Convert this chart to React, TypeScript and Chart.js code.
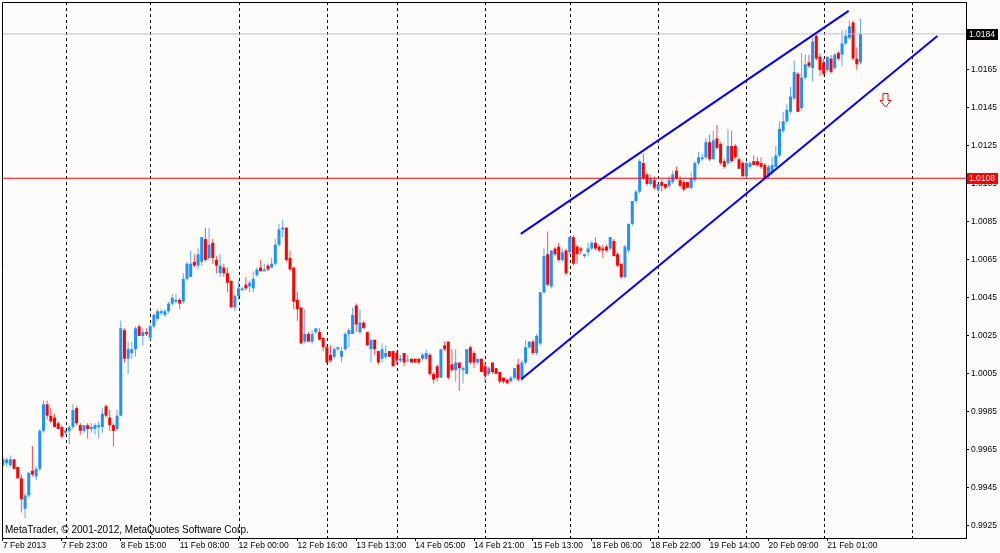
import React, { useEffect, useRef } from "react";
import { Chart, registerables } from "chart.js";

Chart.register(...registerables);

// Prices are stored in 1/10000 units (9960 = 0.9960, 10184 = 1.0184), one H1 candle per entry.
const PIP = 10000;

const openP = [
  9957, 9958, 9957, 9960, 9956, 9950, 9934, 9941, 9954, 9951,
  9955, 9975, 9989, 9983, 9982, 9979, 9977, 9974, 9975, 9977,
  9987, 9978, 9975, 9978, 9976, 9976, 9977, 9977, 9988, 9982,
  9978, 9976, 9983, 10028, 10013, 10016, 10018, 10030, 10025, 10027,
  10024, 10030, 10034, 10037, 10036, 10038, 10042, 10043, 10044, 10043,
  10055, 10056, 10064, 10062, 10064, 10076, 10066, 10074, 10065, 10058,
  10061, 10058, 10054, 10040, 10046, 10049, 10052, 10051, 10050, 10057,
  10061, 10059, 10062, 10061, 10063, 10073, 10081, 10082, 10066, 10061,
  10044, 10040, 10022, 10026, 10022, 10027, 10027, 10024, 10019, 10015,
  10014, 10018, 10014, 10018, 10026, 10026, 10041, 10027, 10032, 10027,
  10018, 10023, 10017, 10013, 10014, 10017, 10017, 10016, 10012, 10016,
  10012, 10013, 10013, 10013, 10013, 10013, 10015, 10005, 10009, 10003,
  10020, 10022, 10010, 10007, 10011, 10007, 10005, 10019, 10016, 10011,
  10013, 10009, 10005, 10011, 10008, 10006, 10003, 10002, 10001, 10003,
  10010, 10002, 10011, 10019, 10022, 10016, 10021, 10048, 10068, 10051,
  10071, 10072, 10065, 10070, 10069, 10077, 10072, 10071, 10067, 10069,
  10071, 10074, 10072, 10071, 10072, 10071, 10075, 10068, 10063, 10056,
  10070, 10084, 10096, 10101, 10116, 10110, 10105, 10107, 10102, 10106,
  10105, 10104, 10106, 10112, 10107, 10106, 10106, 10103, 10107, 10116,
  10118, 10119, 10127, 10118, 10129, 10126, 10117, 10116, 10125, 10125,
  10118, 10116, 10109, 10114, 10117, 10117, 10116, 10115, 10109, 10111,
  10114, 10120, 10133, 10138, 10143, 10150, 10163, 10145, 10161, 10169,
  10166, 10183, 10172, 10169, 10165, 10171, 10166, 10174, 10173, 10179,
  10182, 10190, 10171, 10169,
];

const highP = [
  9961, 9961, 9962, 9960, 9956, 9952, 9942, 9953, 9967, 9956,
  9976, 9991, 9991, 9987, 9984, 9980, 9978, 9976, 9978, 9989,
  9988, 9979, 9978, 9979, 9979, 9979, 9980, 9987, 9989, 9986,
  9979, 9986, 10033, 10029, 10022, 10022, 10030, 10031, 10029, 10029,
  10031, 10037, 10039, 10039, 10039, 10043, 10047, 10047, 10045, 10058,
  10064, 10070, 10068, 10071, 10077, 10082, 10082, 10076, 10067, 10068,
  10063, 10061, 10054, 10047, 10054, 10051, 10056, 10054, 10059, 10061,
  10065, 10063, 10063, 10066, 10076, 10084, 10086, 10082, 10070, 10061,
  10048, 10040, 10039, 10027, 10028, 10029, 10029, 10024, 10020, 10020,
  10019, 10019, 10019, 10027, 10029, 10040, 10042, 10039, 10033, 10027,
  10023, 10023, 10017, 10021, 10020, 10017, 10017, 10017, 10015, 10016,
  10015, 10013, 10013, 10013, 10016, 10018, 10016, 10006, 10010, 10018,
  10022, 10022, 10018, 10018, 10011, 10009, 10018, 10020, 10017, 10013,
  10013, 10011, 10009, 10011, 10008, 10006, 10003, 10002, 10004, 10008,
  10013, 10012, 10023, 10022, 10023, 10026, 10048, 10071, 10080, 10070,
  10072, 10074, 10071, 10071, 10077, 10078, 10073, 10072, 10068, 10074,
  10075, 10077, 10073, 10073, 10073, 10077, 10076, 10069, 10063, 10073,
  10084, 10096, 10102, 10118, 10121, 10111, 10110, 10109, 10105, 10107,
  10105, 10109, 10112, 10114, 10109, 10107, 10106, 10111, 10117, 10122,
  10121, 10129, 10131, 10133, 10136, 10127, 10118, 10134, 10133, 10126,
  10119, 10117, 10117, 10117, 10120, 10119, 10119, 10116, 10115, 10119,
  10125, 10138, 10143, 10147, 10156, 10170, 10164, 10174, 10173, 10173,
  10182, 10185, 10174, 10171, 10172, 10173, 10174, 10175, 10186, 10186,
  10191, 10191, 10177, 10192,
];

const lowP = [
  9956, 9956, 9956, 9955, 9950, 9932, 9929, 9940, 9951, 9949,
  9954, 9974, 9981, 9979, 9977, 9976, 9971, 9973, 9968, 9976,
  9978, 9973, 9974, 9971, 9974, 9973, 9971, 9974, 9982, 9975,
  9967, 9975, 9983, 10011, 10005, 10013, 10014, 10025, 10020, 10025,
  10023, 10029, 10033, 10036, 10035, 10037, 10041, 10042, 10039, 10042,
  10054, 10056, 10061, 10060, 10062, 10064, 10065, 10063, 10058, 10056,
  10056, 10048, 10040, 10038, 10044, 10049, 10049, 10048, 10048, 10056,
  10059, 10059, 10059, 10061, 10062, 10072, 10077, 10064, 10059, 10039,
  10033, 10021, 10021, 10022, 10021, 10026, 10023, 10017, 10011, 10011,
  10013, 10017, 10011, 10017, 10019, 10026, 10027, 10026, 10029, 10020,
  10011, 10015, 10010, 10011, 10013, 10014, 10009, 10010, 10011, 10009,
  10011, 10011, 10011, 10010, 10012, 10012, 10004, 10000, 10001, 10003,
  10017, 10002, 10006, 10001, 9996, 10000, 10005, 10010, 10008, 10010,
  10006, 10001, 10004, 10005, 10005, 10000, 10000, 10000, 10001, 10002,
  10001, 10001, 10010, 10018, 10015, 10015, 10020, 10047, 10051, 10050,
  10067, 10064, 10064, 10057, 10068, 10062, 10063, 10068, 10066, 10067,
  10070, 10070, 10069, 10066, 10069, 10070, 10067, 10061, 10055, 10055,
  10069, 10083, 10095, 10100, 10107, 10104, 10104, 10102, 10101, 10101,
  10102, 10103, 10105, 10107, 10103, 10101, 10103, 10102, 10106, 10115,
  10117, 10118, 10117, 10118, 10123, 10115, 10113, 10115, 10116, 10118,
  10113, 10109, 10108, 10113, 10115, 10114, 10113, 10107, 10108, 10110,
  10113, 10119, 10132, 10137, 10142, 10149, 10143, 10144, 10160, 10166,
  10159, 10170, 10162, 10162, 10164, 10163, 10165, 10170, 10167, 10178,
  10181, 10170, 10165, 10168,
];

const closeP = [
  9960, 9960, 9960, 9955, 9950, 9939, 9941, 9953, 9952, 9955,
  9975, 9989, 9983, 9980, 9977, 9976, 9972, 9975, 9977, 9986,
  9979, 9975, 9978, 9976, 9977, 9978, 9978, 9984, 9983, 9978,
  9975, 9983, 10029, 10013, 10018, 10018, 10029, 10025, 10027, 10026,
  10030, 10036, 10038, 10038, 10038, 10042, 10045, 10044, 10042, 10055,
  10063, 10063, 10062, 10068, 10077, 10065, 10073, 10066, 10062, 10062,
  10058, 10053, 10040, 10046, 10050, 10050, 10050, 10053, 10055, 10060,
  10059, 10060, 10060, 10063, 10073, 10081, 10082, 10065, 10060, 10043,
  10039, 10021, 10026, 10022, 10026, 10029, 10023, 10019, 10011, 10012,
  10018, 10019, 10017, 10026, 10028, 10036, 10031, 10032, 10029, 10020,
  10023, 10018, 10011, 10018, 10016, 10014, 10009, 10012, 10013, 10011,
  10012, 10011, 10011, 10011, 10015, 10016, 10005, 10002, 10003, 10018,
  10018, 10003, 10007, 10011, 10008, 10008, 10018, 10011, 10011, 10013,
  10006, 10004, 10008, 10006, 10005, 10001, 10001, 10000, 10003, 10008,
  10002, 10011, 10019, 10022, 10016, 10025, 10048, 10067, 10052, 10070,
  10068, 10065, 10069, 10058, 10077, 10063, 10068, 10070, 10068, 10071,
  10074, 10071, 10070, 10070, 10070, 10077, 10067, 10062, 10056, 10072,
  10084, 10096, 10101, 10117, 10108, 10105, 10108, 10103, 10105, 10104,
  10103, 10107, 10110, 10108, 10104, 10102, 10103, 10108, 10116, 10119,
  10119, 10127, 10118, 10128, 10124, 10116, 10114, 10125, 10117, 10119,
  10113, 10109, 10116, 10116, 10115, 10115, 10114, 10108, 10114, 10115,
  10120, 10134, 10138, 10144, 10151, 10164, 10143, 10161, 10168, 10167,
  10180, 10171, 10165, 10163, 10172, 10164, 10173, 10171, 10179, 10183,
  10188, 10171, 10168, 10184,
];

// Time axis: bar index of each label and its text
const timeLabelBar = [0, 16, 32, 48, 64, 80, 96, 112, 128, 144, 160, 176, 192, 208, 224];
const timeLabelText = [
  "7 Feb 2013", "7 Feb 23:00", "8 Feb 15:00", "11 Feb 08:00", "12 Feb 00:00",
  "12 Feb 16:00", "13 Feb 13:00", "14 Feb 05:00", "14 Feb 21:00", "15 Feb 13:00",
  "18 Feb 06:00", "18 Feb 22:00", "19 Feb 14:00", "20 Feb 09:00", "21 Feb 01:00",
];
// Daily period separators (bar index of each day's first hour)
const daySeparatorBar = [17, 40, 64, 88, 107, 131, 154, 178, 202, 223, 247];

const priceTicks = [
  1.0165, 1.0145, 1.0125, 1.0105, 1.0085, 1.0065, 1.0045,
  1.0025, 1.0005, 0.9985, 0.9965, 0.9945, 0.9925,
];

// Drawn objects (bar index, price)
const upperChannel = [{ x: 140.7, y: 1.00787 }, { x: 229.8, y: 1.01961 }];
const lowerChannel = [{ x: 140.9, y: 1.00023 }, { x: 253.9, y: 1.01829 }];
const levelPrice = 1.0108;
const sellArrow = { x: 239.75, y: 1.01491 };

const xRange = [-0.27, 261.68];
const yRange = [0.99186, 1.02008];

const BULL = "#1e90ff";
const BULL_WICK = "#5aa8ff";
const BEAR = "#ff0000";
const BEAR_WICK = "#ff5050";
const FONT_FAMILY = "'Liberation Sans', Arial, sans-serif";
const TICK_SIZE = 8.5;

export default function App() {
  const canvasRef = useRef<HTMLCanvasElement | null>(null);

  useEffect(() => {
    const canvas = canvasRef.current;
    if (!canvas) return;
    const n = closeP.length;
    const isBull = (i: number) => closeP[i] >= openP[i];
    const wicks = closeP.map((_, i) => ({ x: i, y: [lowP[i] / PIP, highP[i] / PIP] }));
    const bodies = closeP.map((c, i) => ({
      x: i,
      y: [Math.min(openP[i], c) / PIP, Math.max(openP[i], c) / PIP],
    }));
    const bidPrice = closeP[n - 1] / PIP;

    const bgPlugin = {
      id: "bg",
      beforeDraw(chart: any) {
        const { ctx, width, height } = chart;
        ctx.save();
        ctx.fillStyle = "#fefbfb";
        ctx.fillRect(0, 0, width, height);
        ctx.restore();
      },
    };

    const sepPlugin = {
      id: "sep",
      beforeDatasetsDraw(chart: any) {
        const { ctx, chartArea: a, scales } = chart;
        ctx.save();
        ctx.strokeStyle = "#000";
        ctx.lineWidth = 1;
        ctx.setLineDash([3, 3]);
        daySeparatorBar.forEach((b) => {
          const px = Math.round(scales.x.getPixelForValue(b)) + 0.5;
          ctx.beginPath();
          ctx.moveTo(px, a.top);
          ctx.lineTo(px, a.bottom);
          ctx.stroke();
        });
        ctx.restore();
      },
    };

    const arrowPlugin = {
      id: "arrow",
      afterDatasetsDraw(chart: any) {
        const { ctx, scales } = chart;
        const cx = Math.round(scales.x.getPixelForValue(sellArrow.x)) + 0.5;
        const cy = Math.round(scales.y.getPixelForValue(sellArrow.y)) + 0.5;
        ctx.save();
        ctx.strokeStyle = "#ff0000";
        ctx.fillStyle = "#ffffff";
        ctx.lineWidth = 1;
        ctx.beginPath();
        ctx.moveTo(cx - 2.5, cy - 7);
        ctx.lineTo(cx + 2.5, cy - 7);
        ctx.lineTo(cx + 2.5, cy);
        ctx.lineTo(cx + 5.5, cy);
        ctx.lineTo(cx, cy + 6.5);
        ctx.lineTo(cx - 5.5, cy);
        ctx.lineTo(cx - 2.5, cy);
        ctx.closePath();
        ctx.fill();
        ctx.stroke();
        ctx.restore();
      },
    };

    const framePlugin = {
      id: "frame",
      afterDraw(chart: any) {
        const { ctx, chartArea: a, scales } = chart;
        ctx.save();
        ctx.strokeStyle = "#000";
        ctx.lineWidth = 1;
        ctx.beginPath();
        ctx.moveTo(Math.round(a.left) + 0.5, Math.round(a.bottom));
        ctx.lineTo(Math.round(a.left) + 0.5, Math.round(a.top) + 0.5);
        ctx.lineTo(Math.round(a.right), Math.round(a.top) + 0.5);
        ctx.stroke();

        // copyright text
        ctx.fillStyle = "#000";
        ctx.font = `10px ${FONT_FAMILY}`;
        ctx.textAlign = "left";
        ctx.textBaseline = "alphabetic";
        ctx.fillText("MetaTrader, © 2001-2012, MetaQuotes Software Corp.", a.left + 3, a.bottom - 5);

        // price boxes on the right axis
        const box = (price: number, bg: string) => {
          const py = Math.round(scales.y.getPixelForValue(price));
          ctx.fillStyle = bg;
          ctx.fillRect(Math.round(a.right) + 1, py - 5, 31, 11);
          ctx.fillStyle = "#ffffff";
          ctx.font = `${TICK_SIZE}px ${FONT_FAMILY}`;
          ctx.textBaseline = "middle";
          ctx.fillText(price.toFixed(4), Math.round(a.right) + 3, py + 0.5);
        };
        box(levelPrice, "#ff0000");
        box(bidPrice, "#000000");
        ctx.restore();
      },
    };

    const chart = new Chart(canvas, {
      type: "bar",
      data: {
        datasets: [
          {
            type: "line",
            data: upperChannel,
            borderColor: "#0000ff",
            borderWidth: 2,
            pointRadius: 0,
            order: 0,
          },
          {
            type: "line",
            data: lowerChannel,
            borderColor: "#0000ff",
            borderWidth: 2,
            pointRadius: 0,
            order: 0,
          },
          {
            type: "line",
            data: [{ x: xRange[0], y: levelPrice }, { x: xRange[1], y: levelPrice }],
            borderColor: "#ff0000",
            borderWidth: 1,
            pointRadius: 0,
            order: 0,
          },
          {
            type: "line",
            data: [{ x: xRange[0], y: bidPrice }, { x: xRange[1], y: bidPrice }],
            borderColor: "#c0c0c0",
            borderWidth: 1,
            pointRadius: 0,
            order: 0,
          },
          {
            type: "bar",
            data: bodies as any,
            grouped: false,
            categoryPercentage: 1,
            barPercentage: 0.82,
            maxBarThickness: 3,
            minBarLength: 1,
            inflateAmount: 0,
            borderWidth: 0,
            backgroundColor: (c: any) => (isBull(c.dataIndex) ? BULL : BEAR),
            order: 1,
          },
          {
            type: "bar",
            data: wicks as any,
            grouped: false,
            maxBarThickness: 1,
            minBarLength: 1,
            inflateAmount: 0,
            borderWidth: 0,
            backgroundColor: (c: any) => (isBull(c.dataIndex) ? BULL_WICK : BEAR_WICK),
            order: 2,
          },
        ] as any,
      },
      options: {
        animation: false,
        responsive: false,
        events: [],
        layout: { padding: { left: 2, top: 2, right: 0, bottom: 0 }, autoPadding: false },
        plugins: { legend: { display: false }, tooltip: { enabled: false } },
        scales: {
          x: {
            type: "linear",
            min: xRange[0],
            max: xRange[1],
            offset: false,
            afterBuildTicks: (s: any) => {
              s.ticks = timeLabelBar.map((v) => ({ value: v }));
            },
            afterFit: (s: any) => {
              s.height = 15;
              s.paddingLeft = 0;
              s.paddingRight = 0;
            },
            ticks: {
              autoSkip: false,
              maxRotation: 0,
              minRotation: 0,
              align: "start",
              padding: 0,
              color: "#000",
              font: { family: FONT_FAMILY, size: TICK_SIZE },
              callback: (v: any) => {
                const k = timeLabelBar.indexOf(Number(v));
                return k >= 0 ? timeLabelText[k] : "";
              },
            },
            grid: { drawOnChartArea: false, drawTicks: true, tickLength: 3, color: "#000", offset: false },
            border: { display: true, color: "#000" },
          },
          y: {
            type: "linear",
            position: "right",
            min: yRange[0],
            max: yRange[1],
            beginAtZero: false,
            afterBuildTicks: (s: any) => {
              s.ticks = priceTicks.map((v) => ({ value: v }));
            },
            afterFit: (s: any) => {
              s.width = 34;
              s.paddingTop = 0;
              s.paddingBottom = 0;
            },
            ticks: {
              padding: 2,
              color: "#000",
              font: { family: FONT_FAMILY, size: TICK_SIZE },
              callback: (v: any) => Number(v).toFixed(4),
            },
            grid: { drawOnChartArea: false, drawTicks: true, tickLength: 3, color: "#000" },
            border: { display: true, color: "#000" },
          },
        },
      } as any,
      plugins: [bgPlugin, sepPlugin, arrowPlugin, framePlugin],
    });

    return () => chart.destroy();
  }, []);

  return (
    <div style={{ position: "fixed", left: 0, top: 0, width: 1000, height: 553, background: "#fefbfb" }}>
      <canvas ref={canvasRef} width={1000} height={553} style={{ display: "block" }} />
    </div>
  );
}
